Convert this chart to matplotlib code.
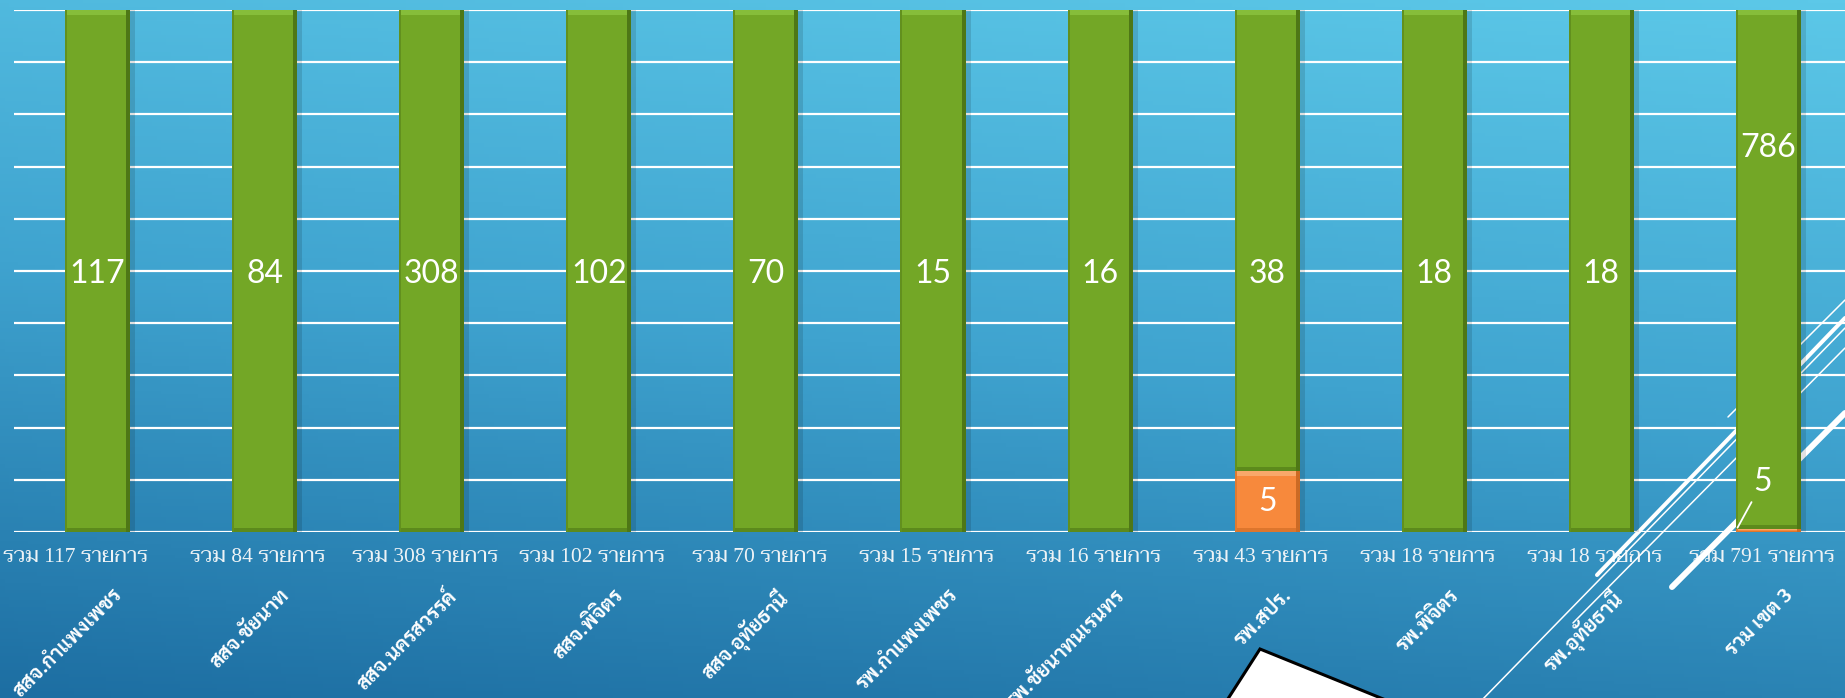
import numpy as np
import matplotlib
matplotlib.use("Agg")
import matplotlib.pyplot as plt
from matplotlib import font_manager
from matplotlib.patches import Rectangle, Polygon
from matplotlib.lines import Line2D
from matplotlib.colors import LinearSegmentedColormap
from matplotlib.transforms import Affine2D, blended_transform_factory

# ---- data ----
categories = ["สสจ.กำแพงเพชร", "สสจ.ชัยนาท", "สสจ.นครสวรรค์", "สสจ.พิจิตร", "สสจ.อุทัยธานี",
              "รพ.กำแพงเพชร", "รพ.ชัยนาทนเรนทร", "รพ.สปร.", "รพ.พิจิตร", "รพ.อุทัยธานี", "รวม เขต 3"]
totals = [117, 84, 308, 102, 70, 15, 16, 43, 18, 18, 791]
green_vals = [117, 84, 308, 102, 70, 15, 16, 38, 18, 18, 786]
orange_vals = [0, 0, 0, 0, 0, 0, 0, 5, 0, 0, 5]
total_labels = ["รวม %d รายการ" % n for n in totals]

# fonts (fall back if a family is missing)
installed = {f.name for f in font_manager.fontManager.ttflist}
def fam(*names):
    got = [n for n in names if n in installed]
    return got + ["DejaVu Sans"]

F_NUM = fam("Lato", "Open Sans")
F_TOT = fam("Liberation Serif", "Taviraj", "Trirong", "Maitree")
F_CAT = fam("Sarabun", "Kanit", "Niramit")

W, H = 1845, 698
fig = plt.figure(figsize=(W / 100, H / 100), dpi=100)
pix = Affine2D().scale(1 / W, -1 / H).translate(0, 1) + fig.transFigure

# background gradient (slide)
bg = fig.add_axes([0, 0, 1, 1], zorder=0)
yy, xx = np.mgrid[0:1:200j, 0:1:400j]
t = 0.8 * yy + 0.2 * (1 - xx)
cmap = LinearSegmentedColormap.from_list("bg", ["#5cc8e8", "#3fa3cf", "#1d6ea2"])
bg.imshow(t, cmap=cmap, aspect="auto", extent=[0, 1, 1, 0], vmin=0, vmax=1)
bg.set_xlim(0, 1)
bg.set_ylim(1, 0)
bg.axis("off")

ax = fig.add_axes([14 / W, 1 - 532 / H, 1838 / W, 522 / H], zorder=1)
ax.patch.set_alpha(0)

x = np.arange(len(categories))
tot = np.array(totals, dtype=float)
g_frac = np.array(green_vals) / tot
o_frac = np.array(orange_vals) / tot

ax.set_xlim(-0.5, len(categories) - 0.5)
ax.set_ylim(0, 1)
ax.set_yticks(np.linspace(0, 1, 11))
ax.grid(axis="y", color="white", linewidth=1.6, zorder=0.5)
ax.set_xticks([])
ax.tick_params(left=False, labelleft=False)
for s in ax.spines.values():
    s.set_visible(False)

bw = 0.39
px_x = 1 / 167.2   # one pixel in data units
px_y = 1 / 522.0

def bevel(bars, light, dark, side):
    for r in bars:
        h = r.get_height()
        if h <= 0:
            continue
        x0, y0, w = r.get_x(), r.get_y(), r.get_width()
        # soft shadow right of the bar
        ax.add_patch(Rectangle((x0 + w, y0), 5 * px_x, h, color="black", alpha=0.12, lw=0, zorder=1.9))
        hh = min(5 * px_y, h / 3)
        ax.add_patch(Rectangle((x0, y0 + h - hh), w, hh, color=light, lw=0, zorder=2.1))
        ax.add_patch(Rectangle((x0, y0), w, min(4 * px_y, h / 4), color=dark, lw=0, zorder=2.1, alpha=0.6))
        ax.add_patch(Rectangle((x0 + w - 4 * px_x, y0), 4 * px_x, h, color=dark, lw=0, zorder=2.1))
        ax.add_patch(Rectangle((x0, y0), 2 * px_x, h, color=side, lw=0, zorder=2.1))

ob = ax.bar(x, o_frac, bw, color="#f7893c", lw=0, zorder=2)
gb = ax.bar(x, g_frac, bw, bottom=o_frac, color="#73a726", lw=0, zorder=2)
bevel(ob, "#f9a86a", "#cc6a24", "#e07a30")
bevel(gb, "#86bd3a", "#4e7716", "#62901e")

# value labels
num_kw = dict(color="white", fontsize=23, family=F_NUM, ha="center", va="center", zorder=4)
for i in range(len(categories) - 1):
    ax.text(x[i], 0.495, str(green_vals[i]), **num_kw)
    if orange_vals[i]:
        ax.text(x[i], o_frac[i] / 2, str(orange_vals[i]), **num_kw)
last = len(categories) - 1
ax.text(x[last], 0.736, str(green_vals[last]), **num_kw)
ax.annotate(str(orange_vals[last]), xy=(x[last] - bw / 2 + 0.01, o_frac[last] + 0.002),
            xytext=(x[last] - 0.035, 0.096), textcoords="data",
            arrowprops=dict(arrowstyle="-", color="white", lw=1.3, shrinkA=2, shrinkB=0),
            **num_kw)

# "รวม N รายการ" line under the bars
row = blended_transform_factory(ax.transData, pix)
for i, lab in enumerate(total_labels):
    if i == 0:
        # pushed against the left edge of the slide
        ax.text(3, 557, lab, transform=pix, color="#eef3f6", fontsize=15.5, family=F_TOT,
                ha="left", va="center", zorder=1.2, clip_on=False)
    else:
        ax.text(x[i] - 0.04, 557, lab, transform=row, color="#eef3f6", fontsize=15.5, family=F_TOT,
                ha="center", va="center", zorder=1.2, clip_on=False)

# rotated category labels
for i, lab in enumerate(categories):
    ax.text(x[i] + 0.17, 586, lab, transform=row, rotation=45, color="white", fontsize=14.5,
            family=F_CAT, fontweight="bold", ha="right", va="top", zorder=3, clip_on=False)

# slide decoration: diagonal strokes and white shape
deco = [((1480, 702), (1845, 328), 1.1),
        ((1597, 575), (1845, 318), 2.9),
        ((1573, 623), (1845, 348), 1.1),
        ((1672, 587), (1845, 413), 4.3),
        ((1728, 417), (1845, 300), 1.1)]
for p0, p1, lw in deco:
    ax.add_line(Line2D([p0[0], p1[0]], [p0[1], p1[1]], transform=pix, color="white", lw=lw,
                       solid_capstyle="round", zorder=1.6, clip_on=False))
ax.add_patch(Polygon([(1224, 705), (1260, 649), (1398, 705)], closed=True, transform=pix,
                     facecolor="white", edgecolor="black", lw=2.2, zorder=1.7, clip_on=False))

plt.savefig("out.png", dpi=100)
